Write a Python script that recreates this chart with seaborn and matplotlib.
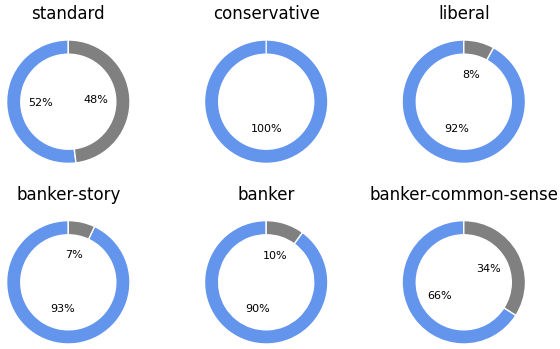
import matplotlib
matplotlib.use("Agg")
import matplotlib.pyplot as plt
import seaborn as sns

titles = ["standard", "conservative", "liberal", "banker-story", "banker", "banker-common-sense"]
gray_share = [48, 0, 8, 7, 10, 34]
blue_share = [52, 100, 92, 93, 90, 66]

sns.set_style("white")
plt.rcParams['font.family'] = ['DejaVu Sans']
plt.rcParams['text.color'] = 'black'
colors = sns.color_palette(["#6495ED", "#808080"])

W, H = 560, 349
fig = plt.figure(figsize=(W / 100, H / 100), dpi=100)

centers_x = [68.3, 266.2, 463.8]
centers_y = [101.7, 282.3]
R = 61.7
lim = 1.1
half = R * lim

for i, title in enumerate(titles):
    cx = centers_x[i % 3]
    cy = centers_y[i // 3]
    ax = fig.add_axes([(cx - half) / W, (H - cy - half) / H, 2 * half / W, 2 * half / H])
    ax.pie([blue_share[i], gray_share[i]], colors=colors, startangle=90, counterclock=True,
           autopct=lambda p: f"{p:.0f}%" if p > 0.5 else "", pctdistance=0.45,
           wedgeprops=dict(width=0.23, edgecolor="white", linewidth=1),
           textprops=dict(fontsize=8, color="black"))
    ax.set_xlim(-lim, lim)
    ax.set_ylim(-lim, lim)
    ax.set_aspect("equal")
    ax.set_title(title, fontsize=12, pad=10.7, color="black")

fig.savefig("out.png", dpi=100)
